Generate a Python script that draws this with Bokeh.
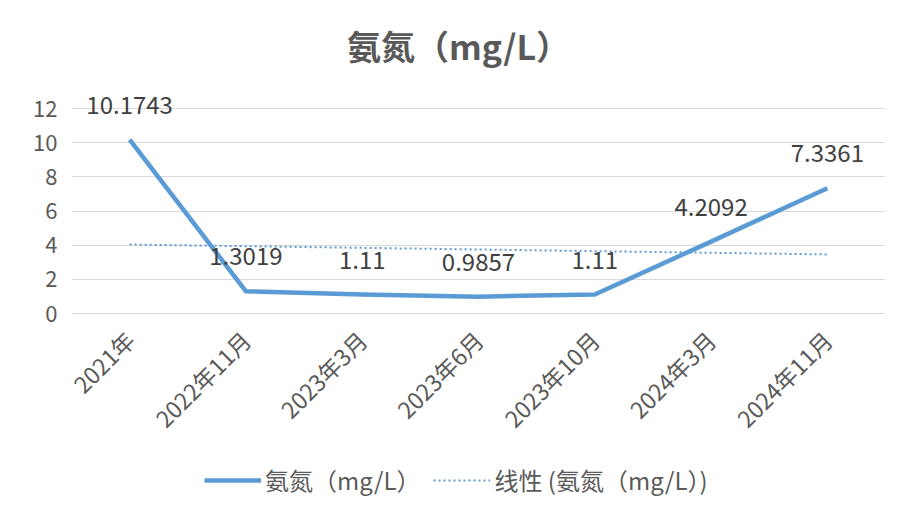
import math
import numpy as np
from bokeh.plotting import figure
from bokeh.models import ColumnDataSource, Legend, LegendItem, Label, FactorRange, FixedTicker, Range1d
from bokeh.embed import file_html
from bokeh.resources import INLINE
from bokeh.core.properties import value

categories = ["2021年", "2022年11月", "2023年3月", "2023年6月", "2023年10月", "2024年3月", "2024年11月"]
values = [10.1743, 1.3019, 1.11, 0.9857, 1.11, 4.2092, 7.3361]
value_labels = ["10.1743", "1.3019", "1.11", "0.9857", "1.11", "4.2092", "7.3361"]
y_ticks = [0, 2, 4, 6, 8, 10, 12]
title_text = "氨氮（mg/L）"
series_name = "氨氮（mg/L）"
trend_name = "线性 (氨氮（mg/L）)"

# linear trend line (least squares over category index)
xs = np.arange(1, len(values) + 1)
slope, intercept = np.polyfit(xs, values, 1)
trend_vals = list(slope * xs + intercept)

FONT = "Noto Sans CJK SC"
BLUE = "#5b9bd5"
TXT = "#595959"

W, H = 891, 509
FRAME_L, FRAME_R = 71, 885
ZERO_PX = 313
PX_PER_UNIT = (313 - 108) / 12.0
Y_TOP = ZERO_PX / PX_PER_UNIT
Y_BOT = -(H - ZERO_PX) / PX_PER_UNIT

p = figure(width=W, height=H, x_range=FactorRange(factors=categories), y_range=Range1d(Y_BOT, Y_TOP),
           output_backend="svg", toolbar_location=None,
           min_border_left=FRAME_L, min_border_right=W - FRAME_R, min_border_top=0,
           min_border_bottom=0)
p.outline_line_color = None
p.background_fill_color = "white"
p.border_fill_color = "white"

src = ColumnDataSource(dict(x=categories, y=values, lab=value_labels))

trend_r = p.line(x=[categories[0], categories[-1]], y=[trend_vals[0], trend_vals[-1]],
                 line_color=BLUE, line_width=2, line_dash="2 3")
main_r = p.line("x", "y", source=src, line_color=BLUE, line_width=4.5, line_join="round")

p.text("x", "y", text="lab", source=src, y_offset=-35, text_align="center", text_baseline="middle",
       text_font=value(FONT), text_font_size="24px", text_color="#404040")

# axes
p.yaxis.ticker = FixedTicker(ticks=y_ticks)
p.yaxis.axis_line_color = None
p.yaxis.major_tick_line_color = None
p.yaxis.minor_tick_line_color = None
p.yaxis.major_tick_out = 0
p.yaxis.major_label_standoff = 14
p.yaxis.major_label_text_font = FONT
p.yaxis.major_label_text_font_size = "22px"
p.yaxis.major_label_text_color = TXT

p.xaxis.fixed_location = 0
p.xaxis.axis_line_color = None
p.xaxis.major_tick_line_color = None
p.xaxis.major_tick_out = 0
p.xaxis.major_label_orientation = math.pi / 4
p.xaxis.major_label_standoff = 22
p.xaxis.major_label_text_font = FONT
p.xaxis.major_label_text_font_size = "23px"
p.xaxis.major_label_text_color = TXT

p.xgrid.grid_line_color = None
p.ygrid.grid_line_color = "#d9d9d9"
p.ygrid.grid_line_width = 1

# title
p.add_layout(Label(x=458 - FRAME_L, y=H - 45, x_units="screen", y_units="screen", text=title_text,
                   text_align="center", text_baseline="middle", text_font=FONT,
                   text_font_size="34px", text_font_style="bold", text_color=TXT))

legend = Legend(items=[LegendItem(label=series_name, renderers=[main_r]),
                       LegendItem(label=trend_name, renderers=[trend_r])],
                orientation="horizontal", location=(133, H - 497),
                glyph_width=57, glyph_height=24, label_standoff=4, spacing=13,
                padding=0, margin=0, border_line_color=None, background_fill_alpha=0,
                label_text_font=FONT, label_text_font_size="24px", label_text_color=TXT)
p.add_layout(legend, "center")

open("out.html", "w").write(file_html(p, INLINE))
